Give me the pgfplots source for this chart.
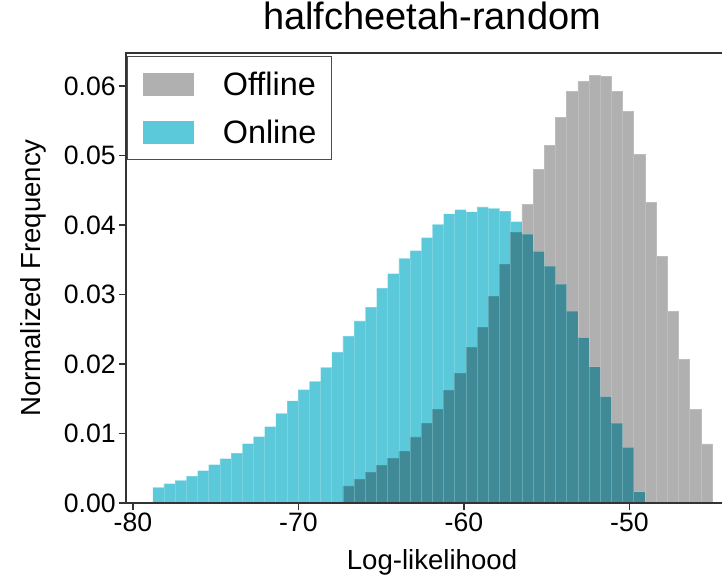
\documentclass[border=0pt]{standalone}
\usepackage{pgfplots}
\usepackage{pgfplotstable}
\pgfplotsset{compat=1.18}
\usepackage{fontspec}
\setmainfont{Liberation Sans}
\definecolor{offgray}{HTML}{B0B0B0}
\definecolor{offedge}{HTML}{BDBDBD}
\definecolor{oncyan}{HTML}{5CC9DA}
\definecolor{spine}{HTML}{333333}

\pgfplotstableread{
x y
-78.800 0.00226
-78.124 0.00278
-77.448 0.00326
-76.772 0.00388
-76.096 0.00465
-75.420 0.00551
-74.744 0.00638
-74.068 0.00719
-73.392 0.00854
-72.716 0.00955
-72.040 0.0110
-71.364 0.0129
-70.688 0.0147
-70.012 0.0163
-69.336 0.0175
-68.660 0.0195
-67.984 0.0217
-67.308 0.0240
-66.632 0.0262
-65.956 0.0282
-65.280 0.0309
-64.604 0.0330
-63.928 0.0352
-63.252 0.0363
-62.576 0.0382
-61.900 0.0401
-61.224 0.0416
-60.548 0.0422
-59.872 0.0419
-59.196 0.0426
-58.520 0.0424
-57.844 0.0420
-57.168 0.0405
-56.492 0.0387
-55.816 0.0362
-55.140 0.0341
-54.464 0.0315
-53.788 0.0276
-53.112 0.0238
-52.436 0.0196
-51.760 0.0153
-51.084 0.0115
-50.408 0.0080
-49.732 0.0016
-49.056 0.0016
}\online

\pgfplotstableread{
x y
-67.308 0.00245
-66.632 0.0034
-65.956 0.0044
-65.280 0.0054
-64.604 0.0064
-63.928 0.0074
-63.252 0.0095
-62.576 0.0115
-61.900 0.0135
-61.224 0.0162
-60.548 0.0187
-59.872 0.0224
-59.196 0.0252
-58.520 0.0297
-57.844 0.0343
-57.168 0.0389
-56.492 0.0430
-55.816 0.0480
-55.140 0.0514
-54.464 0.0555
-53.788 0.0592
-53.112 0.0606
-52.436 0.0615
-51.760 0.0614
-51.084 0.0592
-50.408 0.0563
-49.732 0.0502
-49.056 0.0432
-48.380 0.0355
-47.704 0.0275
-47.028 0.0206
-46.352 0.0135
-45.676 0.0085
-45.000 0.0085
}\offline

\begin{document}
\begin{tikzpicture}
\begin{axis}[
  scale only axis,
  width=306pt, height=225pt,
  xmin=-80.42, xmax=-43.44,
  ymin=0, ymax=0.06475,
  axis line style={spine, line width=0.8pt},
  tick style={spine, line width=0.8pt},
  tick align=outside,
  tick pos=left,
  major tick length=3.5pt,
  xtick={-80,-70,-60,-50},
  ytick={0,0.01,0.02,0.03,0.04,0.05,0.06},
  scaled y ticks=false,
  /pgf/number format/assume math mode=true,
  yticklabel style={/pgf/number format/fixed, /pgf/number format/fixed zerofill, /pgf/number format/precision=2, inner sep=1.5pt},
  ticklabel style={font=\fontsize{13.3}{13.3}\selectfont},
  xticklabel style={inner sep=1.5pt},
  title={halfcheetah-random},
  title style={at={(axis description cs:0.5,1)}, anchor=base, yshift=5.5pt, font=\fontsize{19}{19}\selectfont},
  xlabel={Log-likelihood},
  xlabel style={at={(axis description cs:0.5,0)}, anchor=base, yshift=-33.5pt, font=\fontsize{13.8}{13.8}\selectfont},
  ylabel={Normalized Frequency},
  ylabel style={at={(axis description cs:-0.152,0.5)}, anchor=center, font=\fontsize{13.8}{13.8}\selectfont},
  axis on top,
  legend image code/.code={\fill[#1, draw=none] (0pt,-5.75pt) rectangle (25.5pt,5.75pt);},
  legend cell align=left,
  legend style={at={(axis description cs:0.002,0.993)}, anchor=north west,
    draw=black!70, line width=0.6pt, inner xsep=7.5pt, inner ysep=8pt,
    row sep=12.5pt, column sep=14.5pt,
    nodes={inner sep=0pt, text height=11.5pt, text depth=0pt, font=\fontsize{16.2}{16.2}\selectfont}},
]
\addplot[ybar interval, fill=offgray, draw=offedge, line width=0.4pt] table[x=x, y=y] {\offline};
\addlegendentry{Offline}
\addplot[ybar interval, fill=oncyan, draw=none, blend mode=multiply] table[x=x, y=y] {\online};
\addlegendentry{Online}
\addplot[ybar interval, fill=none, draw=white, draw opacity=0.18, line width=0.4pt, forget plot] table[x=x, y=y] {\online};
\end{axis}
\pgfresetboundingbox
\path[use as bounding box] ([shift={(-63pt,-37pt)}]current axis.south west) rectangle ([shift={(-8pt,26.5pt)}]current axis.north east);
\end{tikzpicture}
\end{document}
